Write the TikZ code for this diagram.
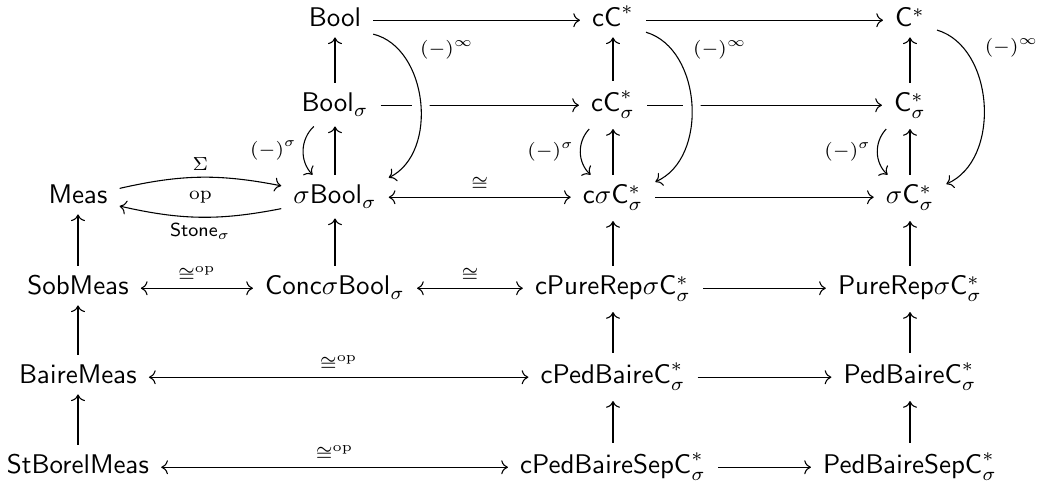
\documentclass[tikz,border=0pt]{standalone}
\usetikzlibrary{cd}
\begin{document}
\begin{tikzpicture}[
  x=0.3704pt, y=0.3704pt,
  >={cm to}, line width=0.4pt,
  obj/.style={shape=asymmetrical rectangle, inner xsep=1ex, inner ysep=0.85ex, anchor=base},
  mor/.style={draw, ->},
  iso/.style={draw, <->},
  lbl/.style={inner sep=0.5ex},
  crossover/.style={preaction={draw=white, -, line width=6.45pt}},
  bendinf/.style={bend left=70},
  bendsig/.style={bend right=45},
  inflbl/.style={lbl, pos=0.15, anchor=west, xshift=7pt, yshift=-1.5pt}
]
\useasboundingbox (0,0) rectangle (1037,497);

% objects, by rows
\node[obj] (Bool)  at (335,470) {$\mathsf{Bool}$};
\node[obj] (cC)    at (613,470) {$\mathsf{cC}^*$};
\node[obj] (C)     at (910,470) {$\mathsf{C}^*$};

\node[obj] (Bs)    at (335,385) {$\mathsf{Bool}_\sigma$};
\node[obj] (cCs)   at (613,385) {$\mathsf{cC}^*_\sigma$};
\node[obj] (Cs)    at (910,385) {$\mathsf{C}^*_\sigma$};

\node[obj] (Meas)  at (78,293)  {$\mathsf{Meas}$};
\node[obj] (sB)    at (335,293) {$\sigma\mathsf{Bool}_\sigma$};
\node[obj] (csC)   at (613,293) {$\mathsf{c}\sigma\mathsf{C}^*_\sigma$};
\node[obj] (sC)    at (910,293) {$\sigma\mathsf{C}^*_\sigma$};

\node[obj] (Sob)   at (78,202)  {$\mathsf{SobMeas}$};
\node[obj] (Conc)  at (335,202) {$\mathsf{Conc}\sigma\mathsf{Bool}_\sigma$};
\node[obj] (cPR)   at (613,202) {$\mathsf{cPureRep}\sigma\mathsf{C}^*_\sigma$};
\node[obj] (PR)    at (910,202) {$\mathsf{PureRep}\sigma\mathsf{C}^*_\sigma$};

\node[obj] (Baire) at (78,113)  {$\mathsf{BaireMeas}$};
\node[obj] (cPB)   at (613,113) {$\mathsf{cPedBaireC}^*_\sigma$};
\node[obj] (PB)    at (910,113) {$\mathsf{PedBaireC}^*_\sigma$};

\node[obj] (StB)   at (78,23)   {$\mathsf{StBorelMeas}$};
\node[obj] (cPBS)  at (613,23)  {$\mathsf{cPedBaireSepC}^*_\sigma$};
\node[obj] (PBS)   at (910,23)  {$\mathsf{PedBaireSepC}^*_\sigma$};

% horizontal arrows
\draw[mor] (Bool) -- (cC);
\draw[mor] (cC) -- (C);
\draw[mor] (Bs) -- (cCs);
\draw[mor] (cCs) -- (Cs);
\draw[iso] (sB) -- node[lbl, above] {$\scriptstyle\cong$} (csC);
\draw[mor] (csC) -- (sC);
\draw[iso] (Sob) -- node[lbl, above] {$\scriptstyle\cong^{\mathrm{op}}$} (Conc);
\draw[iso] (Conc) -- node[lbl, above] {$\scriptstyle\cong$} (cPR);
\draw[mor] (cPR) -- (PR);
\draw[iso] (Baire) -- node[lbl, above] {$\scriptstyle\cong^{\mathrm{op}}$} (cPB);
\draw[mor] (cPB) -- (PB);
\draw[iso] (StB) -- node[lbl, above] {$\scriptstyle\cong^{\mathrm{op}}$} (cPBS);
\draw[mor] (cPBS) -- (PBS);

% vertical arrows
\draw[mor] (Bs) -- (Bool);
\draw[mor] (sB) -- (Bs);
\draw[mor] (Conc) -- (sB);
\draw[mor] (Sob) -- (Meas);
\draw[mor] (Baire) -- (Sob);
\draw[mor] (StB) -- (Baire);
\draw[mor] (cCs) -- (cC);
\draw[mor] (csC) -- (cCs);
\draw[mor] (cPR) -- (csC);
\draw[mor] (cPB) -- (cPR);
\draw[mor] (cPBS) -- (cPB);
\draw[mor] (Cs) -- (C);
\draw[mor] (sC) -- (Cs);
\draw[mor] (PR) -- (sC);
\draw[mor] (PB) -- (PR);
\draw[mor] (PBS) -- (PB);

% the adjunction between Meas and sigma-Bool
\draw[mor] (Meas) to[bend left=12] node[lbl, above] {$\scriptstyle\Sigma$} (sB);
\draw[mor] (sB) to[bend left=12] node[lbl, below] {$\scriptstyle\mathsf{Stone}_\sigma$} (Meas);
\path (Meas) -- node {$\scriptstyle\mathrm{op}$} (sB);

% sigma-completions
\draw[mor] (Bs) to[bendsig] node[lbl, left] {$\scriptstyle(-)^\sigma$} (sB);
\draw[mor] (cCs) to[bendsig] node[lbl, left] {$\scriptstyle(-)^\sigma$} (csC);
\draw[mor] (Cs) to[bendsig] node[lbl, left] {$\scriptstyle(-)^\sigma$} (sC);

% infinity functors, crossing over the middle row
\draw[mor, crossover] (Bool) to[bendinf] node[inflbl] {$\scriptstyle(-)^\infty$} (sB);
\draw[mor, crossover] (cC) to[bendinf] node[inflbl] {$\scriptstyle(-)^\infty$} (csC);
\draw[mor, crossover] (C) to[bendinf] node[inflbl] {$\scriptstyle(-)^\infty$} (sC);
\end{tikzpicture}
\end{document}
